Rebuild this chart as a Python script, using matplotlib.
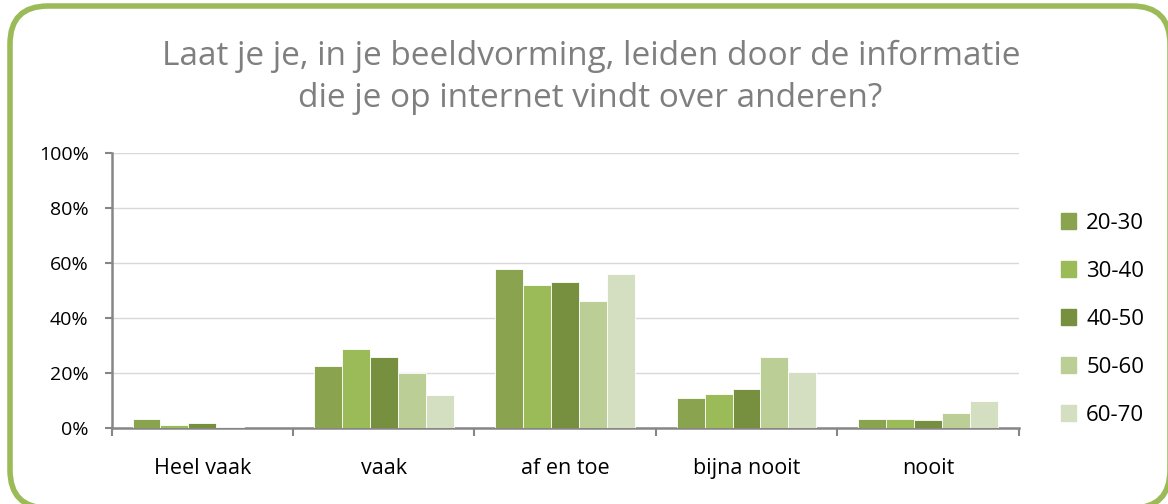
import numpy as np
import matplotlib.pyplot as plt
from matplotlib.patches import FancyBboxPatch, Patch

categories = ["Heel vaak", "vaak", "af en toe", "bijna nooit", "nooit"]
groups = ["20-30", "30-40", "40-50", "50-60", "60-70"]
v_20_30 = [3.3, 22.5, 57.8, 11.2, 3.4]
v_30_40 = [1.2, 28.7, 52.2, 12.6, 3.4]
v_40_50 = [1.9, 25.8, 53.0, 14.4, 3.0]
v_50_60 = [0.5, 20.0, 46.3, 25.9, 5.6]
v_60_70 = [0.0, 12.0, 56.1, 20.4, 9.9]
series = [v_20_30, v_30_40, v_40_50, v_50_60, v_60_70]
colors = ["#8AA34E", "#9BBB59", "#77903F", "#BBCE96", "#D3DFC0"]

font = "Open Sans"
plt.rcParams["font.family"] = [font, "DejaVu Sans"]

fig = plt.figure(figsize=(11.68, 5.04), dpi=100)

# rounded green frame, drawn in pixel units
bg = fig.add_axes([0, 0, 1, 1], zorder=-1)
bg.set_xlim(0, 1168)
bg.set_ylim(0, 504)
bg.axis("off")
frame = FancyBboxPatch((10, -4), 1160, 502, boxstyle="round,pad=0,rounding_size=38",
                       fc="white", ec="#9BBB59", lw=4)
bg.add_patch(frame)

ax = fig.add_axes([0.0956, 0.150, 0.7765, 0.5464])
ax.patch.set_alpha(0)

x = np.arange(len(categories))
w = 0.154
for i, (vals, c) in enumerate(zip(series, colors)):
    ax.bar(x + (i - 2) * w, vals, w, color=c, edgecolor="white", linewidth=0.6,
           label=groups[i], zorder=3)

ax.set_xlim(-0.5, len(categories) - 0.5)
ax.set_ylim(0, 100)
ax.set_yticks(np.arange(0, 101, 20))
ax.set_yticklabels([f"{v}%" for v in range(0, 101, 20)], fontsize=14)
ax.yaxis.grid(True, color="#D9D9D9", lw=1, zorder=0)

ax.set_xticks(x)
ax.set_xticklabels(categories, fontsize=15.5)
ax.set_xticks(np.arange(-0.5, len(categories)), minor=True)
ax.tick_params(axis="x", which="major", length=0, pad=21)
ax.tick_params(axis="x", which="minor", length=6, color="#868686", width=1.5)
ax.tick_params(axis="y", length=5, color="#868686", width=1.5, pad=11.5)

for s in ["top", "right"]:
    ax.spines[s].set_visible(False)
for s in ["left", "bottom"]:
    ax.spines[s].set_color("#868686")
    ax.spines[s].set_linewidth(1.8)

fig.text(0.506, 0.871, "Laat je je, in je beeldvorming, leiden door de informatie",
         ha="center", va="baseline", fontsize=24, color="#7F7F7F")
fig.text(0.505, 0.788, "die je op internet vindt over anderen?",
         ha="center", va="baseline", fontsize=24, color="#7F7F7F")

handles = [Patch(color=c, label=g) for c, g in zip(colors, groups)]
fig.legend(handles=handles, loc="upper left", bbox_to_anchor=(0.891, 0.618),
           frameon=False, fontsize=16, handlelength=0.7, handleheight=0.7,
           handletextpad=0.45, labelspacing=1.22)

fig.savefig("out.png", dpi=100)
